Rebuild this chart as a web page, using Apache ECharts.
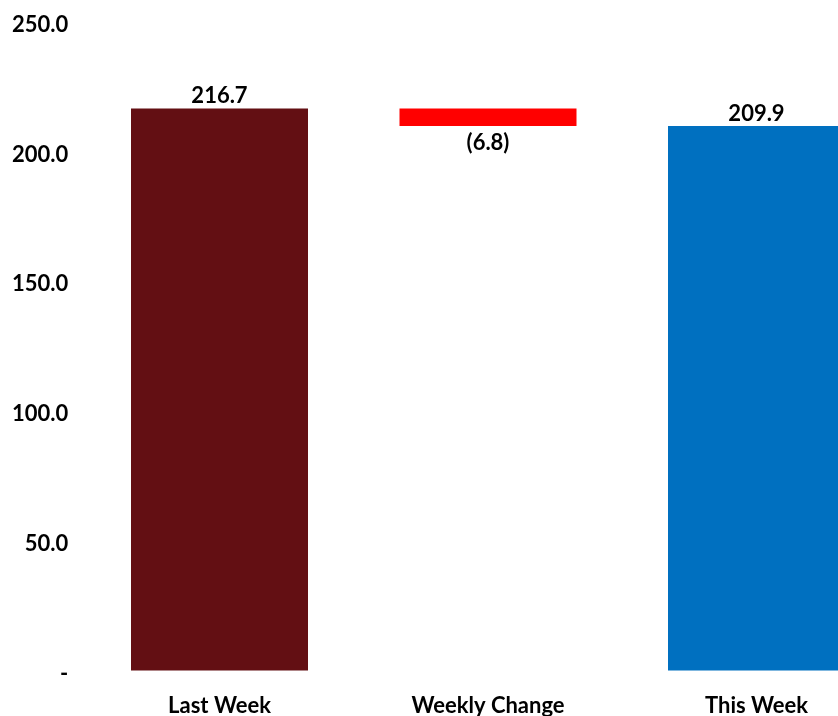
<!DOCTYPE html>
<html><head><meta charset="utf-8">
<script src="https://cdn.jsdelivr.net/npm/echarts@6/dist/echarts.min.js"></script>
<style>html,body{margin:0;padding:0;background:#fff}#c{width:838px;height:716px}</style>
</head><body><div id="c"></div>
<script>
const categories = ["Last Week", "Weekly Change", "This Week"];
const values = [216.7, -6.8, 209.9];
const barColors = ["#630F13", "#FF0000", "#0070C0"];
const yTicks = [0, 50, 100, 150, 200, 250];

const FONT = "Lato";
const FS = 22;
const fmt = v => v < 0 ? "(" + Math.abs(v).toFixed(1) + ")" : v.toFixed(1);

const baseData = values.map((v, i) => i === 1 ? (v < 0 ? values[0] + v : values[0]) : 0);
const showData = values.map((v, i) => ({
  value: Math.abs(v),
  raw: v,
  itemStyle: { color: barColors[i] },
  label: { position: (i === 1 && v < 0) ? "bottom" : "top", distance: (i === 1) ? 6 : 1 }
}));

const chart = echarts.init(document.getElementById("c"), null, { renderer: "canvas" });
chart.setOption({
  animation: false,
  grid: { left: 85.25, right: -52.75, top: 22, bottom: 45.5, containLabel: false, outerBoundsMode: "none" },
  xAxis: {
    type: "category", data: categories,
    axisLine: { show: false }, axisTick: { show: false },
    axisLabel: { color: "#000", fontFamily: FONT, fontWeight: "bold", fontSize: FS, margin: 24 }
  },
  yAxis: {
    type: "value", min: yTicks[0], max: yTicks[yTicks.length - 1], interval: 50,
    splitLine: { show: false }, axisLine: { show: false }, axisTick: { show: false },
    axisLabel: {
      color: "#000", fontFamily: FONT, fontWeight: "bold", fontSize: FS, margin: 17,
      verticalAlign: "top", lineHeight: 6,
      formatter: v => v === 0 ? "-" : v.toFixed(1)
    }
  },
  series: [
    { type: "bar", stack: "w", data: baseData, barWidth: 177,
      itemStyle: { color: "transparent" }, silent: true },
    { type: "bar", stack: "w", data: showData, barWidth: 177,
      label: { show: true, color: "#000", fontFamily: FONT, fontWeight: "bold", fontSize: FS,
        formatter: p => fmt(p.data.raw) } }
  ]
});
</script></body></html>
